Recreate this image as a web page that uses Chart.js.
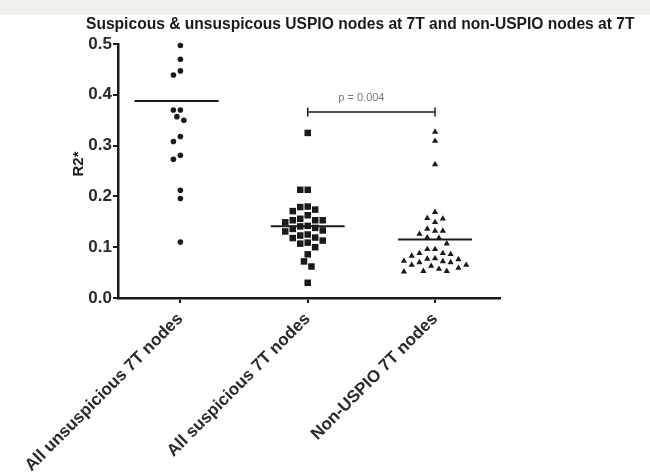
<!DOCTYPE html>
<html>
<head>
<meta charset="utf-8">
<script src="https://cdn.jsdelivr.net/npm/chart.js@4.4.0/dist/chart.umd.min.js"></script>
<style>
  html, body { margin: 0; padding: 0; background: #fff; }
  #wrap { width: 650px; height: 475px; position: relative; }
</style>
</head>
<body>
<div id="wrap"><canvas id="charto"></canvas></div>
<script>
// data
const groups = ['All unsuspicious 7T nodes', 'All suspicious 7T nodes', 'Non-USPIO 7T nodes'];
const unsuspicious = [0.497, 0.470, 0.447, 0.439, 0.370, 0.370, 0.357, 0.350, 0.318, 0.308, 0.281, 0.273, 0.212, 0.196, 0.110];
const suspicious = [0.325, 0.213, 0.213, 0.180, 0.179, 0.174, 0.171, 0.163, 0.156, 0.153, 0.149, 0.153, 0.153,
  0.142, 0.141, 0.138, 0.136, 0.133, 0.131, 0.125, 0.123, 0.119, 0.118, 0.113, 0.109, 0.107, 0.100,
  0.086, 0.072, 0.062, 0.030];
const nonUspio = [0.327, 0.309, 0.263, 0.169, 0.157, 0.156, 0.149, 0.136, 0.132, 0.132, 0.126, 0.119, 0.118,
  0.107, 0.096, 0.096, 0.088, 0.088, 0.086, 0.083, 0.078, 0.077, 0.076, 0.073, 0.072, 0.070, 0.070,
  0.065, 0.065, 0.063, 0.059, 0.057, 0.053, 0.053, 0.052];
const centerLines = [0.388, 0.141, 0.115];
const yTicks = [0, 0.1, 0.2, 0.3, 0.4, 0.5];
const bracketY = 0.366;
const pLabel = 'p = 0.004';
const chartTitle = 'Suspicous & unsuspicous USPIO nodes at 7T and non-USPIO nodes at 7T';
const yTitle = 'R2*';

const FONT = "'Liberation Sans', Arial, sans-serif";
const INK = '#1a1a1a';

// simple beeswarm: spread points sideways so they don't overlap (pixel units approx)
function swarm(values, center, gap) {
  const pxX = 127.5, pxY = 506;
  const placed = [];
  values.slice().sort((a, b) => b - a).forEach(v => {
    const py = v * pxY;
    for (let k = 0; k < 30; k++) {
      const cands = k === 0 ? [0] : [-k * gap / 2, k * gap / 2];
      let done = false;
      for (const off of cands) {
        const hit = placed.some(p => Math.hypot(p.px - off, p.py - py) < gap);
        if (!hit) { placed.push({ px: off, py: py, v: v }); done = true; break; }
      }
      if (done) break;
    }
  });
  return placed.map(p => ({ x: center + p.px / pxX, y: p.v }));
}

const lineHalf = [0.33, 0.29, 0.29];
const lineShift = [-0.03, 0, 0];
const meanSets = centerLines.map((m, i) => ({
  type: 'line',
  data: [{ x: i + lineShift[i] - lineHalf[i], y: m }, { x: i + lineShift[i] + lineHalf[i], y: m }],
  borderColor: INK, borderWidth: 2, pointRadius: 0
}));

const textPlugin = {
  id: 'texts',
  beforeDraw(c) {
    const ctx = c.ctx;
    ctx.save();
    ctx.fillStyle = '#efefeb';
    ctx.fillRect(0, 0, c.width, 15);
    ctx.restore();
  },
  afterDraw(c) {
    const ctx = c.ctx;
    const xs = c.scales.x, ys = c.scales.y;
    ctx.save();
    ctx.fillStyle = INK;
    ctx.font = 'bold 15.6px ' + FONT;
    ctx.textAlign = 'left';
    ctx.textBaseline = 'alphabetic';
    ctx.fillText(chartTitle, 86, 29);

    ctx.fillStyle = '#777';
    ctx.font = '11px ' + FONT;
    ctx.textAlign = 'center';
    ctx.fillText(pLabel, (xs.getPixelForValue(1) + xs.getPixelForValue(2)) / 2 - 10, ys.getPixelForValue(bracketY) - 11);

    ctx.translate(79, 164);
    ctx.rotate(-Math.PI / 2);
    ctx.fillStyle = INK;
    ctx.font = 'bold 15px ' + FONT;
    ctx.textBaseline = 'middle';
    ctx.fillText(yTitle, 0, 0);
    ctx.restore();
  }
};

new Chart(document.querySelector('#charto').getContext('2d'), {
  type: 'scatter',
  data: {
    datasets: [
      { data: swarm(unsuspicious, 0, 7), pointStyle: 'circle', pointRadius: 2.8, backgroundColor: INK, borderWidth: 0 },
      { data: swarm(suspicious, 1, 7.5), pointStyle: 'rect', pointRadius: 4.6, backgroundColor: INK, borderWidth: 0 },
      { data: swarm(nonUspio, 2, 7.8), pointStyle: 'triangle', pointRadius: 3.6, backgroundColor: INK, borderWidth: 0 },
      ...meanSets,
      {
        type: 'line',
        data: [{ x: 1, y: bracketY }, { x: 2, y: bracketY }],
        borderColor: INK, borderWidth: 1.5,
        pointStyle: 'line', pointRotation: 90, pointRadius: 4.5, pointBorderWidth: 1.5, pointBorderColor: INK
      }
    ]
  },
  options: {
    responsive: true,
    maintainAspectRatio: false,
    animation: false,
    layout: { padding: { left: 0, top: 44, right: 150, bottom: 0 } },
    plugins: { legend: { display: false }, tooltip: { enabled: false } },
    datasets: { scatter: { clip: false }, line: { clip: false } },
    scales: {
      x: {
        type: 'linear', min: -0.49, max: 2.51,
        afterBuildTicks: s => { s.ticks = groups.map((g, i) => ({ value: i })); },
        afterFit: s => { s.height = 177; },
        grid: { drawOnChartArea: false, drawTicks: true, tickLength: 5, color: INK, lineWidth: 2 },
        border: { display: true, color: INK, width: 2.5 },
        ticks: {
          minRotation: 45, maxRotation: 45, padding: 6,
          color: '#2a2a2a', font: { family: FONT, size: 17, weight: 'bold' },
          callback: v => groups[v]
        }
      },
      y: {
        min: 0, max: 0.5,
        afterBuildTicks: s => { s.ticks = yTicks.map(v => ({ value: v })); },
        afterFit: s => { s.width = 118; },
        grid: { drawOnChartArea: false, drawTicks: true, tickLength: 5, color: INK, lineWidth: 2 },
        border: { display: true, color: INK, width: 2.5 },
        ticks: {
          padding: 1, color: '#2a2a2a', font: { family: FONT, size: 17, weight: 'bold' },
          callback: v => v.toFixed(1)
        }
      }
    }
  },
  plugins: [textPlugin]
});
</script>
</body>
</html>
